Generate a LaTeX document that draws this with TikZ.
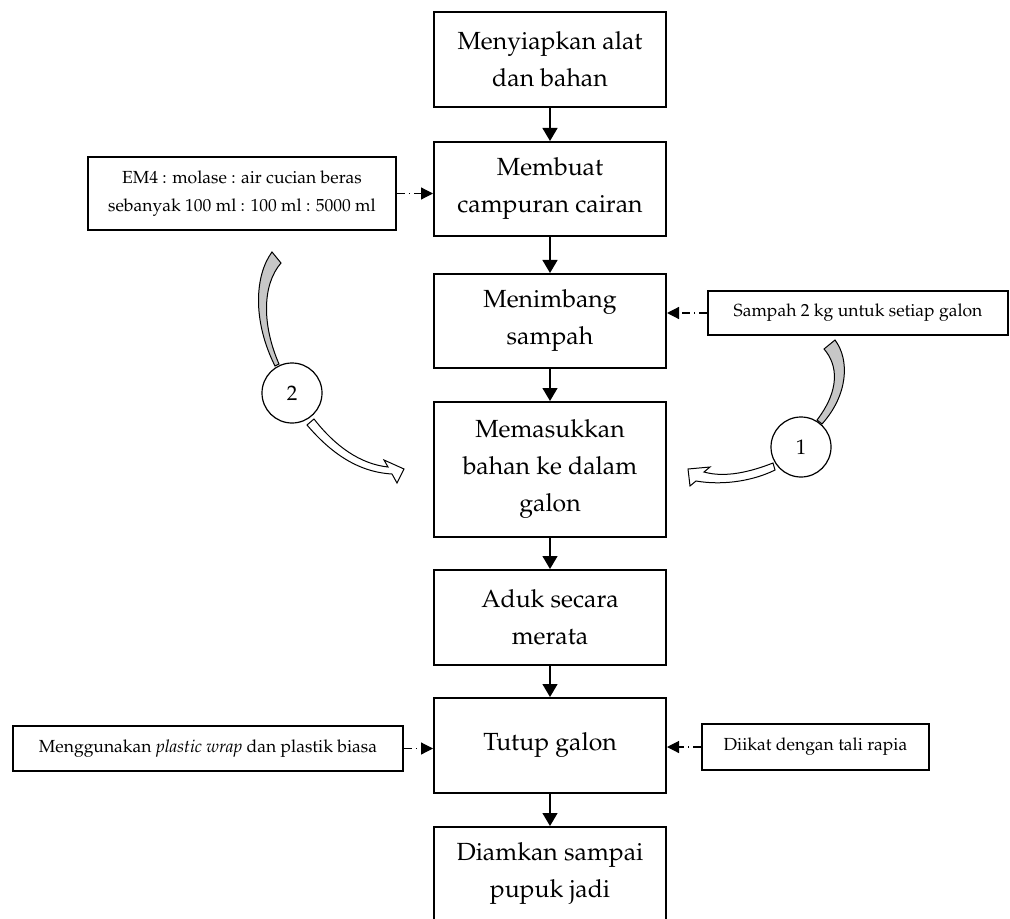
\documentclass[tikz,border=0pt]{standalone}
\usepackage[T1]{fontenc}
\usepackage{mathpazo}
\usepackage{tikz}
\usetikzlibrary{arrows.meta}

\begin{document}
\begin{tikzpicture}[
    x=0.5pt, y=-0.5pt, % pixel grid of the scan
    proc/.style   = {rectangle, draw, line width=1pt, minimum width=116pt, align=center, inner sep=2pt,
                     font=\fontsize{12.4}{18.5}\selectfont},
    note/.style   = {rectangle, draw, line width=0.9pt, align=center, inner sep=2pt,
                     font=\fontsize{8.75}{14}\selectfont},
    marker/.style = {circle, draw, fill=white, line width=0.6pt, minimum size=30pt, inner sep=0pt,
                     font=\fontsize{10.5}{12}\selectfont},
    % Arrows
    flow/.style   = {-{Triangle[length=6.5pt,width=7.5pt]}, line width=0.65pt},
    aux/.style    = {-{Triangle[length=6pt,width=6pt]}, line width=0.6pt,
                     dash pattern=on 4pt off 2pt on 0.7pt off 2pt},
    bentgray/.style  = {draw, line width=0.5pt, fill=black!22},
    bentwhite/.style = {draw, line width=0.5pt, fill=white}
  ]
  \useasboundingbox (0,0) rectangle (1010,919);

  % ===== Main flow =====
  \node[proc, minimum height=47.5pt] (p1) at (550,59.5)  {Menyiapkan alat\\dan bahan};
  \node[proc, minimum height=47pt]   (p2) at (550,189)   {Membuat\\campuran cairan};
  \node[proc, minimum height=47pt]   (p3) at (550,321)   {Menimbang\\sampah};
  \node[proc, minimum height=67.5pt] (p4) at (550,469.5) {Memasukkan\\bahan ke dalam\\galon};
  \node[proc, minimum height=47.5pt] (p5) at (550,617.5) {Aduk secara\\merata};
  \node[proc, minimum height=47.5pt] (p6) at (550,745.5) {Tutup galon};
  \node[proc, minimum height=47pt]   (p7) at (550,874)   {Diamkan sampai\\pupuk jadi};

  \foreach \u/\v in {p1/p2, p2/p3, p3/p4, p4/p5, p5/p6, p6/p7}{
    \draw[flow] (\u) -- (\v);
  }

  % ===== Side notes =====
  \node[note, minimum width=154pt, minimum height=36.5pt] (n1) at (242,193.5)
    {EM4 : molase : air cucian beras\\sebanyak 100 ml : 100 ml : 5000 ml};
  \node[note, minimum width=150pt, minimum height=22pt] (n2) at (858,313)
    {Sampah 2 kg untuk setiap galon};
  \node[note, minimum width=195pt, minimum height=22.5pt] (n3) at (208,748.5)
    {Menggunakan \textit{plastic wrap} dan plastik biasa};
  \node[note, minimum width=113.5pt, minimum height=23pt] (n4) at (815.5,747)
    {Diikat dengan tali rapia};

  \draw[aux] (n1.east) -- (n1.east -| p2.west);
  \draw[aux] (n2.west) -- (n2.west -| p3.east);
  \draw[aux] (n3.east) -- (n3.east -| p6.west);
  \draw[aux] (n4.west) -- (n4.west -| p6.east);

  % ===== Curved block arrows =====
  % left one (2)
  \draw[bentgray] (272,252) .. controls (255,275) and (252,320) .. (275,366)
    -- (279,364) .. controls (262,325) and (262,285) .. (281,263) -- cycle;
  \draw[bentwhite] (314,419) .. controls (335,446) and (360,464) .. (388,467)
    -- (384,460) -- (404,469) -- (397,483) -- (392,474)
    .. controls (357,472) and (330,452) .. (307,425) -- cycle;
  % right one (1)
  \draw[bentgray] (835,340) .. controls (850,360) and (848,395) .. (822,424)
    -- (817,420) .. controls (840,390) and (838,365) .. (824,349) -- cycle;
  \draw[bentwhite] (773,463) .. controls (750,472) and (725,478) .. (704,472)
    -- (710,467) -- (688,469) -- (690,486) -- (696,481)
    .. controls (725,486) and (755,480) .. (775,470) -- cycle;

  \node[marker] (m2) at (292,393) {2};
  \node[marker] (m1) at (801,447) {1};

\end{tikzpicture}
\end{document}
